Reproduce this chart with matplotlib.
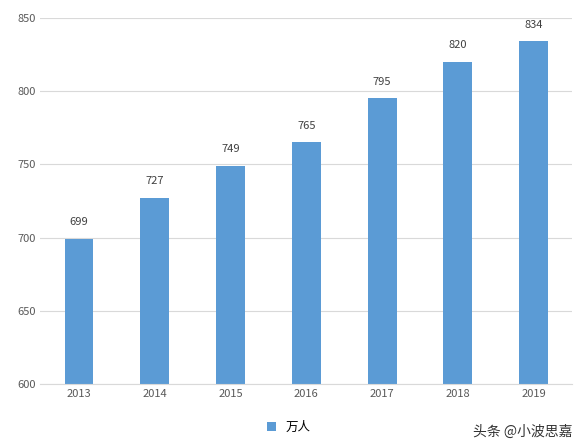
import matplotlib.pyplot as plt

years = ["2013", "2014", "2015", "2016", "2017", "2018", "2019"]
values = [699, 727, 749, 765, 795, 820, 834]

plt.rcParams['font.family'] = ['Noto Sans CJK SC', 'DejaVu Sans']

fig = plt.figure(figsize=(5.78, 4.45), dpi=100)
ax = fig.add_axes([0.07, 0.137, 0.92, 0.823])
bars = ax.bar(years, values, width=0.38, color="#5b9bd5", label="万人")
for b, v in zip(bars, values):
    ax.text(b.get_x() + b.get_width() / 2, v + 8, str(v), ha="center", va="bottom", fontsize=8, color="#404040")

ax.set_ylim(600, 850)
ax.set_yticks(range(600, 851, 50))
ax.yaxis.grid(True, color="#d9d9d9", linewidth=0.8)
ax.set_axisbelow(True)
for s in ["top", "right", "left"]:
    ax.spines[s].set_visible(False)
ax.spines["bottom"].set_color("#d9d9d9")
ax.tick_params(length=0, labelsize=8, colors="#595959")
fig.legend(loc="lower center", bbox_to_anchor=(0.5, 0.0), frameon=False, fontsize=9,
           handlelength=0.7, handleheight=0.7)
fig.text(0.99, 0.02, "头条 @小波思嘉", ha="right", fontsize=10, color="#333333")
fig.savefig("out.png")
